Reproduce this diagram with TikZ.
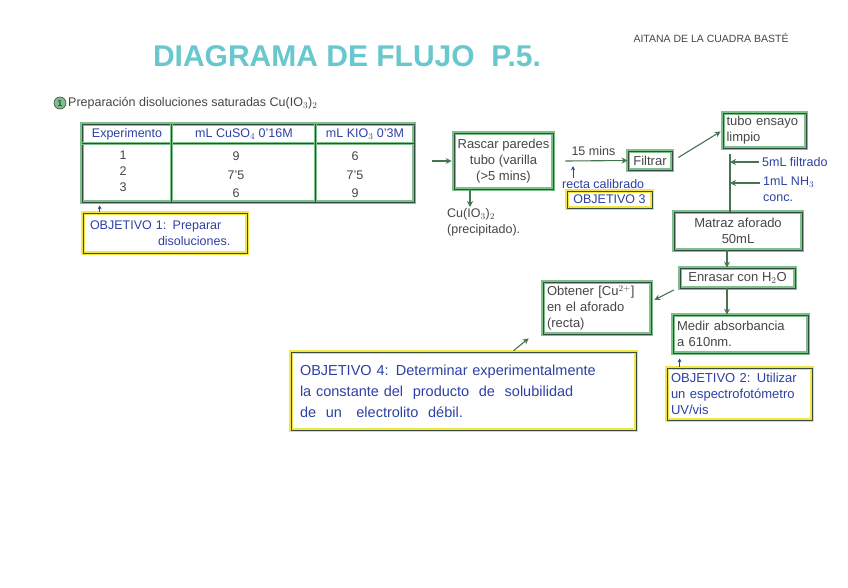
\documentclass[tikz,border=0pt]{standalone}
\usepackage{fontspec}
\setmainfont{Liberation Sans}
\usetikzlibrary{arrows.meta}
\definecolor{gfill}{RGB}{125,192,140}
\definecolor{gdark}{RGB}{55,75,65}
\definecolor{yfill}{RGB}{242,230,70}
\definecolor{bluet}{RGB}{45,65,165}
\definecolor{pencil}{RGB}{70,70,70}
\definecolor{teal1}{RGB}{105,200,205}
\definecolor{arrc}{RGB}{70,115,80}
\newcommand{\fsz}[2]{\fontsize{#1}{#2}\selectfont}
\begin{document}
\begin{tikzpicture}[x=1pt,y=-1pt,
  gbox/.style={rectangle, draw=gdark, line width=0.7pt, preaction={draw=gfill,line width=3.4pt}, inner sep=3pt, text=pencil, font=\fsz{13}{16}},
  ybox/.style={rectangle, draw=gdark, line width=0.7pt, preaction={draw=yfill,line width=3.4pt}, inner sep=4pt, text=bluet, font=\fsz{13}{16}},
  arr/.style={-{Stealth[length=6pt,width=6pt]}, draw=arrc, line width=1.1pt},
  barr/.style={-{Stealth[length=4pt,width=4pt]}, draw=bluet, line width=0.7pt},
  plain/.style={text=pencil, font=\fsz{12.5}{16}, inner sep=0pt},
  btext/.style={text=bluet, font=\fsz{12.5}{16}, inner sep=0pt},
  tline/.style={draw=gdark, line width=0.7pt, preaction={draw=gfill,line width=2.6pt}}
]
\useasboundingbox[fill=white] (0,0) rectangle (848,587);

% title and author
\node[text=teal1, font=\fsz{30}{34}\bfseries, inner sep=0pt] (title) at (347,56) {DIAGRAMA DE FLUJO\ \ P.5.};
\node[plain, font=\fsz{10.5}{12}] (author) at (711,38) {AITANA DE LA CUADRA BASTÉ};

% section heading
\node[circle, fill=gfill, draw=gdark, line width=0.6pt, inner sep=0pt, minimum size=12pt, font=\fsz{9}{10}\bfseries, text=gdark] (one) at (60,103) {1};
\node[plain, anchor=west] (head) at (68,103) {Preparación disoluciones saturadas Cu(IO$_3$)$_2$};

% table
\node[rectangle, draw=gdark, line width=0.7pt, preaction={draw=gfill,line width=3.4pt}, minimum width=332pt, minimum height=78pt, inner sep=0pt] (table) at (248,163) {};
\draw[tline] ([yshift=-20pt]table.north west) -- ([yshift=-20pt]table.north east);
\draw[tline] ([xshift=90pt]table.north west) -- ([xshift=90pt]table.south west);
\draw[tline] ([xshift=234pt]table.north west) -- ([xshift=234pt]table.south west);
\node[btext] (h1) at (127,134) {Experimento};
\node[btext] (h2) at (244,134) {mL CuSO$_4$ 0'16M};
\node[btext] (h3) at (365,134) {mL KIO$_3$ 0'3M};
\node[plain] (r11) at (123,155) {1};
\node[plain] (r21) at (123,171) {2};
\node[plain] (r31) at (123,187) {3};
\node[plain] (r12) at (236,156) {9};
\node[plain] (r22) at (236,175) {7'5};
\node[plain] (r32) at (236,193) {6};
\node[plain] (r13) at (355,156) {6};
\node[plain] (r23) at (355,175) {7'5};
\node[plain] (r33) at (355,193) {9};

% objective 1
\node[ybox, minimum width=164pt, minimum height=40pt, align=left, text width=150pt, font=\fsz{12.5}{16}] (obj1) at (165,233) {OBJETIVO 1: Preparar\\\hspace*{68pt}disoluciones.};
\draw[barr] ([xshift=17pt,yshift=1pt]obj1.north west) -- ([xshift=18pt,yshift=-3pt]table.south west);

% flow
\node[gbox, minimum width=99pt, minimum height=56pt, align=center] (rascar) at (503.5,161) {Rascar paredes\\tubo (varilla\\(>5 mins)};
\draw[arr, shorten <=18pt, shorten >=2pt] (table.east |- rascar.west) -- (rascar.west);

\node[plain, anchor=north west, align=left] (precip) at (447,208) {Cu(IO$_3$)$_2$\\(precipitado).};
\coordinate (pA) at (470,207);
\draw[arr] (rascar.south -| pA) -- (pA);

\node[gbox, minimum width=44pt, minimum height=19pt, inner sep=1pt] (filtrar) at (650,160.5) {Filtrar};
\draw[arr] ([xshift=12pt]rascar.east) -- node[plain, above=5pt, pos=0.45] (quince) {15 mins} (filtrar.west);

\node[btext, anchor=west] (calib) at (562,184) {recta calibrado};
\draw[barr] ([xshift=11pt,yshift=1pt]calib.north west) -- ++(0,-12);
\node[ybox, minimum width=85pt, minimum height=17pt, inner sep=1pt, font=\fsz{12.5}{15}] (obj3) at (609.5,199.5) {OBJETIVO 3};

\node[gbox, minimum width=83pt, minimum height=35pt, align=left, text width=76pt, inner sep=2pt] (tubo) at (764.5,130.5) {tubo ensayo\\limpio};
\draw[arr] ([xshift=6pt,yshift=3pt]filtrar.east) -- ([xshift=-2pt,yshift=-1pt]tubo.west);

\node[gbox, minimum width=128pt, minimum height=38pt, align=center] (matraz) at (738,231) {Matraz aforado\\50mL};
\coordinate (vtop) at (730,154);
\draw[draw=arrc, line width=1.1pt] (vtop) -- (vtop |- matraz.north);

\node[btext, anchor=west] (filt) at (762,162) {5mL filtrado};
\node[btext, anchor=west, align=left] (nh3) at (763,189) {1mL NH$_3$\\conc.};
\draw[arr] ([xshift=-3pt]filt.west) -- (filt.west -| vtop);
\draw[arr] ([xshift=-3pt]nh3.west |- 0,183) -- (vtop |- 0,183);

\node[gbox, minimum width=115pt, minimum height=20pt, inner sep=1pt] (enrasar) at (737.5,278) {Enrasar con H$_2$O};
\draw[arr] ([xshift=-11pt]matraz.south) -- ([xshift=-10.5pt]enrasar.north);

\node[gbox, minimum width=135pt, minimum height=38pt, align=left, text width=127pt] (medir) at (740.5,334) {Medir absorbancia\\a 610nm.};
\draw[arr] ([xshift=-10.5pt]enrasar.south) -- ([xshift=-13.5pt]medir.north);

\node[gbox, minimum width=108pt, minimum height=52pt, align=left, text width=100pt] (obtener) at (597,308) {Obtener [Cu$^{2+}$]\\en el aforado\\(recta)};
\draw[arr] ([xshift=-6pt,yshift=-12pt]enrasar.west) -- ([xshift=3pt,yshift=8pt]obtener.east);

% objective 4
\node[ybox, minimum width=345pt, minimum height=78pt, align=left, text width=327pt, font=\fsz{14.5}{21}] (obj4) at (463.5,391) {OBJETIVO 4: Determinar experimentalmente\\la constante del \ producto \ de \ solubilidad\\de \ un \ \ electrolito \ débil.};
\draw[arr] ([xshift=50pt,yshift=1pt]obj4.north) -- ([xshift=-14pt,yshift=-4pt]obtener.south west);

% objective 2
\node[ybox, minimum width=145pt, minimum height=52pt, align=left, text width=137pt, inner sep=3pt] (obj2) at (739.5,394) {OBJETIVO 2: Utilizar\\un espectrofotómetro\\UV/vis};
\draw[barr] ([xshift=13pt,yshift=1pt]obj2.north west) -- ([xshift=7pt,yshift=-5pt]medir.south west);
\end{tikzpicture}
\end{document}
